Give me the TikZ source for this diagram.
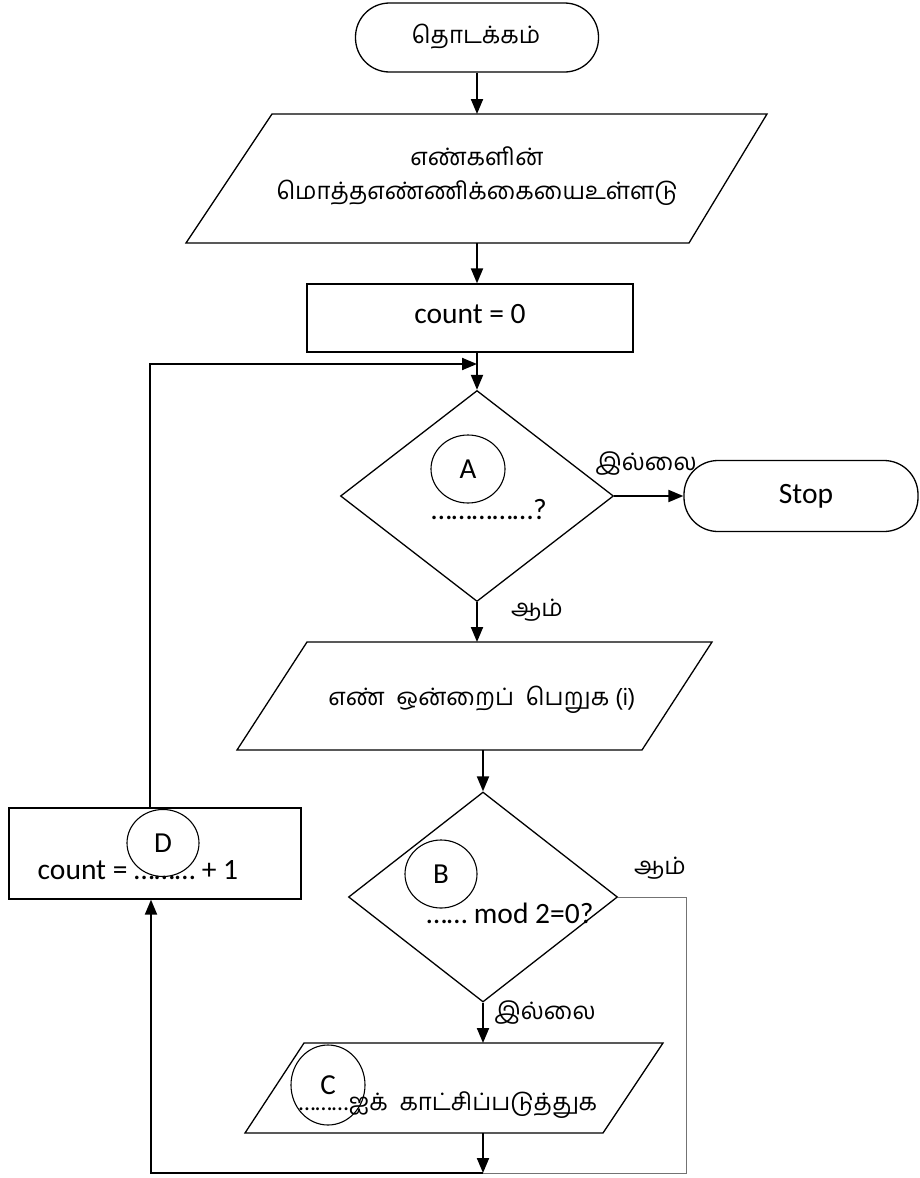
\documentclass[tikz,border=0pt]{standalone}
\usepackage{fontspec}
\setmainfont{Carlito}
\newfontfamily\tamil[Script=Tamil]{Hind Madurai}
\usetikzlibrary{shapes.geometric,arrows.meta}
\tikzset{
  outline/.style={draw, line width=1.3pt, inner sep=0pt},
  boxnode/.style={outline, rectangle},
  termnode/.style={outline, rectangle, rounded corners=34pt},
  dianode/.style={outline, diamond},
  tagnode/.style={draw, line width=1.1pt, ellipse, inner sep=0pt, font=\fontsize{29}{32}\selectfont},
  conn/.style={line width=2pt, -{Triangle[length=15pt,width=12pt]}},
  yesline/.style={line width=0.8pt, draw=black!55},
  tam/.style={font=\tamil\fontsize{24}{34}\selectfont, inner sep=0pt, align=center},
  lat/.style={font=\fontsize{29.5}{32}\selectfont, inner sep=0pt},
}
\begin{document}
\begin{tikzpicture}[x=1pt,y=-1pt]
\useasboundingbox (0,0) rectangle (920,1178);

% start
\node[termnode, minimum width=243pt, minimum height=69pt] (start) at (477,37.5) {};
\node[tam] (starttxt) at (476,37) {தொடக்கம்};

% input parallelogram 1
\draw[line width=1.3pt] (272,114) -- (767,114) -- (689,243) -- (186,243) -- cycle;
\coordinate (p1t) at (477,114);
\coordinate (p1b) at (477,243);
\node[tam] (p1txt) at (477,176) {எண்களின்\\மொத்தஎண்ணிக்கையைஉள்ளடு};

% count = 0
\node[boxnode, minimum width=326pt, minimum height=68pt] (cnt) at (470,318) {};
\node[lat] (cnttxt) at (470,314) {count = 0};

% decision A
\node[dianode, minimum width=273pt, minimum height=211pt] (diaA) at (477,496) {};
\node[tagnode, minimum width=74pt, minimum height=68pt] (tagA) at (468,469) {A};
\node[lat] (atxt) at (489,510) {……………?};

% stop
\node[termnode, minimum width=234pt, minimum height=71pt] (stop) at (801,496) {};
\node[lat] (stoptxt) at (806,496) {Stop};
\node[tam] (noA) at (646,464) {இல்லை};
\node[tam] (yesA) at (537,610) {ஆம்};

% input parallelogram 2
\draw[line width=1.3pt] (307,642) -- (712,642) -- (642,750) -- (237,750) -- cycle;
\coordinate (p2t) at (477,642);
\coordinate (p2b) at (483,750);
\node[tam] (p2txt) at (482,700) {எண்~~ஒன்றைப்~~பெறுக (i)};

% decision B
\node[dianode, minimum width=269pt, minimum height=210pt] (diaB) at (483,897) {};
\node[tagnode, minimum width=72pt, minimum height=68pt] (tagB) at (441,874) {B};
\node[lat] (btxt) at (510,913) {…… mod 2=0?};
\node[tam] (yesB) at (660,868) {ஆம்};
\node[tam] (noB) at (545,1013) {இல்லை};

% output parallelogram 3
\draw[line width=1.3pt] (304,1043) -- (663,1043) -- (603,1133) -- (245,1133) -- cycle;
\coordinate (p3t) at (483,1043);
\coordinate (p3b) at (483,1133);
\node[tagnode, minimum width=74pt, minimum height=80pt] (tagC) at (328,1085) {C};
\node[tam] (p3txt) at (448,1105) {\fontspec{Carlito}………\tamil ஐக்~~காட்சிப்படுத்துக};

% count = ... + 1
\node[boxnode, minimum width=292pt, minimum height=91pt] (dbox) at (155,853.5) {};
\node[tagnode, minimum width=72pt, minimum height=67pt] (tagD) at (163,843) {D};
\node[lat] (dtxt) at (138,870) {count = ……… + 1};

\coordinate (loopin) at (477,364);
\coordinate (bot) at (483,1173);
\coordinate (yescorner) at (686,897);

% connectors
\draw[conn] (start.south) -- (p1t);
\draw[conn] (p1b) -- (p1b |- cnt.north);
\draw[line width=2pt] (cnt.south -| diaA.north) -- (loopin);
\draw[conn] (loopin) -- (diaA.north);
\draw[conn] ([xshift=-5pt]dbox.north) |- (loopin);
\draw[conn] (diaA.east) -- (stop.west);
\draw[conn] (diaA.south) -- (p2t);
\draw[conn] (p2b) -- (diaB.north);
\draw[conn] (diaB.south) -- (p3t);
\draw[yesline] (diaB.east) -- (yescorner) |- (bot);
\draw[conn] (p3b) -- (bot);
\draw[conn] (bot) -| ([xshift=-4pt]dbox.south);
\end{tikzpicture}
\end{document}
